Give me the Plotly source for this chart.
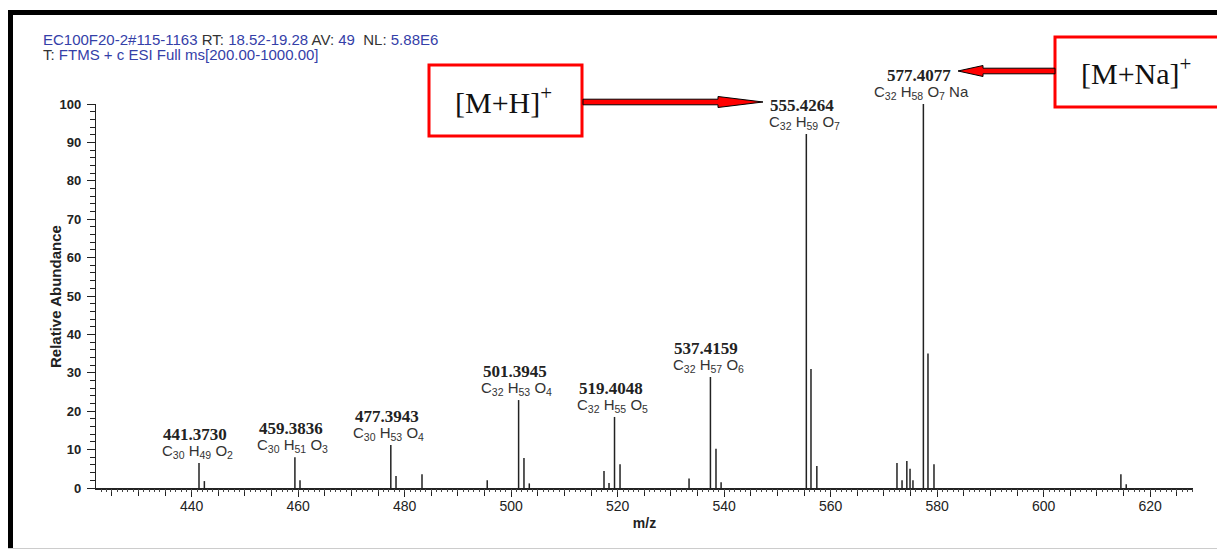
"""
Espectro de masas ESI (FTMS) - EC100F20-2
Sticks + etiquetas de m/z y formula, con flechas [M+H]+ y [M+Na]+
"""

import plotly.graph_objects as go

# -- Datos -------------------------------------------------------------------
# picos (m/z, abundancia relativa %)
PEAK_MZ = [441.373, 442.38, 459.3836, 460.34, 477.3943, 478.37, 483.25, 495.5,
           501.3945, 502.40, 503.40, 517.43, 518.37, 519.4048, 520.44, 533.40,
           537.4159, 538.46, 539.42, 555.4264, 556.30, 557.40, 572.45, 573.40,
           574.30, 574.90, 575.45, 577.4077, 578.27, 579.40, 614.50, 615.50]
PEAK_INT = [6.5, 1.8, 8.0, 2.0, 11.2, 3.1, 3.6, 2.0,
            22.9, 7.8, 1.2, 4.4, 1.3, 18.5, 6.2, 2.5,
            28.9, 10.2, 1.5, 92.2, 31.0, 5.7, 6.5, 2.0,
            7.0, 5.0, 2.0, 100.0, 35.0, 6.2, 3.6, 1.0]

# etiquetas de picos
LABEL_MZ = [441.373, 459.3836, 477.3943, 501.3945, 519.4048, 537.4159, 555.4264, 577.4077]
LABEL_INT = [6.5, 8.0, 11.2, 22.9, 18.5, 28.9, 92.2, 100.0]
LABEL_TXT = ["441.3730", "459.3836", "477.3943", "501.3945",
             "519.4048", "537.4159", "555.4264", "577.4077"]
LABEL_FORM = [
    "C<sub>30</sub> H<sub>49</sub> O<sub>2</sub>",
    "C<sub>30</sub> H<sub>51</sub> O<sub>3</sub>",
    "C<sub>30</sub> H<sub>53</sub> O<sub>4</sub>",
    "C<sub>32</sub> H<sub>53</sub> O<sub>4</sub>",
    "C<sub>32</sub> H<sub>55</sub> O<sub>5</sub>",
    "C<sub>32</sub> H<sub>57</sub> O<sub>6</sub>",
    "C<sub>32</sub> H<sub>59</sub> O<sub>7</sub>",
    "C<sub>32</sub> H<sub>58</sub> O<sub>7</sub> Na",
]

X_TICKS = [440, 460, 480, 500, 520, 540, 560, 580, 600, 620]

# -- Geometria (pixeles de la pagina) ------------------------------------------
PAGE_W, PAGE_H = 1225, 552
OFF = 8                      # margen del body del navegador
L, R, T, B = 96, 1193, 104, 488   # area del grafico en la pagina


def px(x):
    return (x - L) / (R - L)


def py(y):
    return (B - y) / (B - T)


BLUE = "#3440a8"
INK = "#222222"
SANS = "Liberation Sans, Arial, sans-serif"
SERIF = "Liberation Serif, Times New Roman, serif"

# -- Trazas ------------------------------------------------------------------
xs, ys = [], []
for m, h in zip(PEAK_MZ, PEAK_INT):
    xs += [m, m, None]
    ys += [0, h, None]

fig = go.Figure()
fig.add_trace(go.Scatter(x=xs, y=ys, mode="lines",
                         line=dict(color=INK, width=1.5),
                         hoverinfo="skip", showlegend=False))
# traza invisible para el eje de marcas finas (textura de la linea base)
fig.add_trace(go.Scatter(x=[PEAK_MZ[0]], y=[0], xaxis="x2", mode="markers",
                         marker=dict(opacity=0), hoverinfo="skip", showlegend=False))

# -- Etiquetas de picos --------------------------------------------------------
for m, h, t, f in zip(LABEL_MZ, LABEL_INT, LABEL_TXT, LABEL_FORM):
    fig.add_annotation(x=m, y=h, text=f"<b>{t}</b>", showarrow=False,
                       xanchor="center", yanchor="bottom", xshift=-4, yshift=17,
                       font=dict(family=SERIF, size=17, color=INK))
    fig.add_annotation(x=m, y=h, text=f, showarrow=False,
                       xanchor="center", yanchor="bottom", xshift=-2, yshift=0,
                       font=dict(family=SANS, size=15, color="#333333"))

# -- Cabecera ---------------------------------------------------------------
line1 = (f"<span style='color:{BLUE}'>EC100F20-2#115-1163</span> RT: "
         f"<span style='color:{BLUE}'>18.52-19.28</span> AV: "
         f"<span style='color:{BLUE}'>49</span>  NL: "
         f"<span style='color:{BLUE}'>5.88E6</span>")
line2 = f"T: <span style='color:{BLUE}'>FTMS + c ESI Full ms[200.00-1000.00]</span>"
for txt, yy in [(line1, 39), (line2, 55)]:
    fig.add_annotation(xref="paper", yref="paper", x=px(41), y=py(yy),
                       text=txt, showarrow=False, align="left",
                       xanchor="left", yanchor="middle",
                       font=dict(family=SANS, size=15, color="#333333"))

# titulo del eje y
fig.add_annotation(xref="paper", yref="paper", x=px(55), y=py(297),
                   text="<b>Relative Abundance</b>", textangle=-90, showarrow=False,
                   xanchor="center", yanchor="middle",
                   font=dict(family=SANS, size=15, color=INK))

# -- Marco, cajas y flechas ---------------------------------------------------
shapes = []
# marco negro (arriba e izquierda) y borde gris inferior
shapes.append(dict(type="rect", xref="paper", yref="paper", layer="above",
                   x0=px(0), x1=px(PAGE_W + 5), y0=py(15), y1=py(10),
                   fillcolor="black", line_width=0))
shapes.append(dict(type="rect", xref="paper", yref="paper", layer="above",
                   x0=px(8), x1=px(13), y0=py(548), y1=py(10),
                   fillcolor="black", line_width=0))
shapes.append(dict(type="line", xref="paper", yref="paper",
                   x0=px(8), x1=px(PAGE_W + 5), y0=py(548.5), y1=py(548.5),
                   line=dict(color="#cccccc", width=1)))

# cajas rojas
for x0, x1, y0, y1 in [(429, 582, 65, 136), (1055, 1222, 37, 107)]:
    shapes.append(dict(type="rect", xref="paper", yref="paper",
                       x0=px(x0), x1=px(x1), y0=py(y1), y1=py(y0),
                       fillcolor="white", line=dict(color="#ff0000", width=3)))


def arrow_path(pts):
    return "M " + " L ".join(f"{px(a):.5f},{py(b):.5f}" for a, b in pts) + " Z"


# [M+H]+  -> derecha
a1 = [(583, 99.2), (718, 99.2), (718, 96.5), (763, 102), (718, 107.5), (718, 104.8), (583, 104.8)]
# [M+Na]+ -> izquierda
a2 = [(1055, 68.2), (983, 68.2), (983, 65.5), (958, 71), (983, 76.5), (983, 73.8), (1055, 73.8)]
for pts in (a1, a2):
    shapes.append(dict(type="path", xref="paper", yref="paper", path=arrow_path(pts),
                       fillcolor="#ff0000", line=dict(color="black", width=1)))

fig.add_annotation(xref="paper", yref="paper", x=px(503), y=py(100),
                   xanchor="center", yanchor="middle",
                   text="[M+H]<sup>+</sup>", showarrow=False,
                   font=dict(family=SERIF, size=30, color="#111111"))
fig.add_annotation(xref="paper", yref="paper", x=px(1136), y=py(71),
                   xanchor="center", yanchor="middle",
                   text="[M+Na]<sup>+</sup>", showarrow=False,
                   font=dict(family=SERIF, size=30, color="#111111"))

# -- Layout ------------------------------------------------------------------
fig.update_layout(
    width=PAGE_W - OFF, height=PAGE_H - OFF,
    margin=dict(l=L - OFF, r=PAGE_W - R, t=T - OFF, b=PAGE_H - B),
    paper_bgcolor="white", plot_bgcolor="white",
    shapes=shapes,
    showlegend=False,
    xaxis=dict(
        range=[422.03, 628.04], tickmode="array", tickvals=X_TICKS,
        showgrid=False, zeroline=False,
        showline=True, linecolor=INK, linewidth=2,
        ticks="outside", ticklen=7, tickwidth=1.2, tickcolor=INK,
        minor=dict(dtick=5, tick0=0, ticks="outside", ticklen=6, tickcolor=INK, tickwidth=1),
        tickfont=dict(family=SANS, size=14, color=INK),
        tickprefix="<b>", ticksuffix="</b>",
        ticklabelstandoff=-3,
        title=dict(text="<b>m/z</b>", font=dict(family=SANS, size=14, color=INK), standoff=5),
    ),
    xaxis2=dict(
        overlaying="x", matches="x", anchor="y", side="bottom",
        showgrid=False, zeroline=False, showline=False, showticklabels=False,
        tickmode="linear", tick0=0, dtick=1,
        ticks="outside", ticklen=3, tickwidth=1, tickcolor="#444444",
    ),
    yaxis=dict(
        range=[0, 100], tickmode="linear", tick0=0, dtick=10,
        showgrid=False, zeroline=False,
        showline=True, linecolor=INK, linewidth=1.2,
        ticks="outside", ticklen=8, tickwidth=1.2, tickcolor=INK,
        minor=dict(dtick=2, ticks="outside", ticklen=5, tickcolor=INK, tickwidth=1),
        tickfont=dict(family=SANS, size=13, color=INK),
        tickprefix="<b>", ticksuffix="</b>",
        ticklabelstandoff=3,
    ),
)

fig.write_html("out.html")
